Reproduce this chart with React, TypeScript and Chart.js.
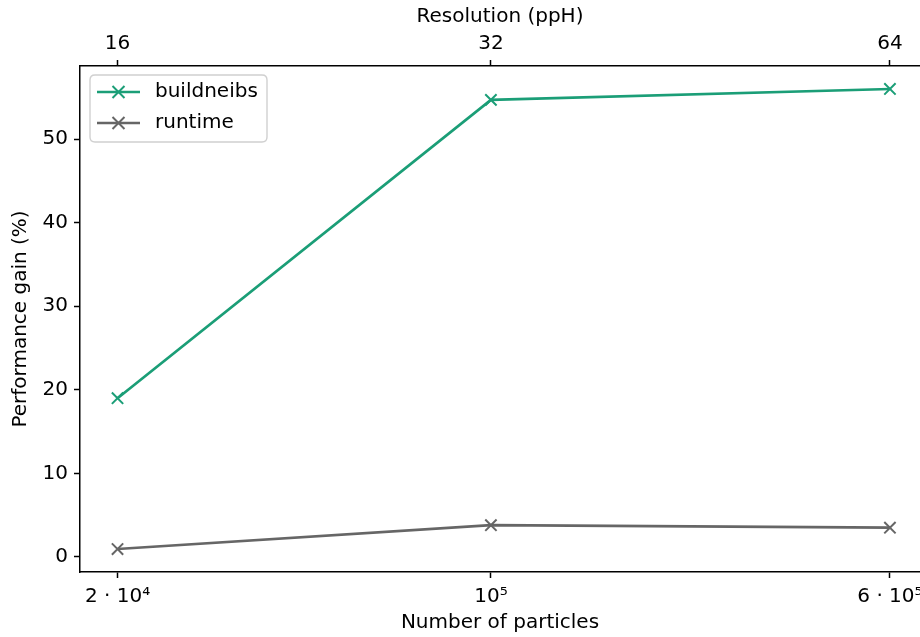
import React, { useEffect, useRef } from "react";
import { Chart, registerables } from "chart.js";

Chart.register(...registerables);

const particles = [18700, 100000, 600000];
const particleLabels = ["2 · 10⁴", "10⁵", "6 · 10⁵"];
const resolutionLabels = ["16", "32", "64"];
const buildneibs = [19.0, 54.7, 56.0];
const runtime = [0.95, 3.8, 3.5];
const yTicks = [0, 10, 20, 30, 40, 50];

const FONT = "'DejaVu Sans', sans-serif";
const FS = 20;

const legendPlugin = {
  id: "innerLegend",
  afterDraw(chart: any) {
    const ctx = chart.ctx;
    const x0 = 90, y0 = 75, w = 177, h = 67, r = 5;
    ctx.save();
    ctx.beginPath();
    ctx.moveTo(x0 + r, y0);
    ctx.lineTo(x0 + w - r, y0);
    ctx.quadraticCurveTo(x0 + w, y0, x0 + w, y0 + r);
    ctx.lineTo(x0 + w, y0 + h - r);
    ctx.quadraticCurveTo(x0 + w, y0 + h, x0 + w - r, y0 + h);
    ctx.lineTo(x0 + r, y0 + h);
    ctx.quadraticCurveTo(x0, y0 + h, x0, y0 + h - r);
    ctx.lineTo(x0, y0 + r);
    ctx.quadraticCurveTo(x0, y0, x0 + r, y0);
    ctx.closePath();
    ctx.fillStyle = "rgba(255,255,255,0.8)";
    ctx.fill();
    ctx.strokeStyle = "#d0d0d0";
    ctx.lineWidth = 1.4;
    ctx.stroke();
    chart.data.datasets.forEach((ds: any, i: number) => {
      const y = 92 + i * 31;
      ctx.strokeStyle = ds.borderColor;
      ctx.lineWidth = 2.7;
      ctx.beginPath();
      ctx.moveTo(97, y);
      ctx.lineTo(140, y);
      ctx.stroke();
      const c = 118.5, s = 6;
      ctx.lineWidth = 2;
      ctx.beginPath();
      ctx.moveTo(c - s, y - s);
      ctx.lineTo(c + s, y + s);
      ctx.moveTo(c - s, y + s);
      ctx.lineTo(c + s, y - s);
      ctx.stroke();
      ctx.fillStyle = "#000";
      ctx.font = `${FS}px ${FONT}`;
      ctx.textBaseline = "middle";
      ctx.textAlign = "left";
      ctx.fillText(ds.label, 155, y);
    });
    ctx.restore();
  },
};

export default function App() {
  const ref = useRef<HTMLCanvasElement>(null);
  useEffect(() => {
    if (!ref.current) return;
    const axisCommon = {
      border: { display: true, color: "#000", width: 1.5 },
      grid: {
        display: true,
        drawOnChartArea: false,
        drawTicks: true,
        tickLength: 6,
        tickColor: "#000",
        tickWidth: 1.5,
        color: "#000",
      },
    };
    const xMin = 15800;
    const xMax = 686700;
    const noPad = (s: any) => {
      s.paddingLeft = 0;
      s.paddingRight = 0;
    };
    const chart = new Chart(ref.current, {
      type: "line",
      data: {
        datasets: [
          {
            label: "buildneibs",
            data: particles.map((p, i) => ({ x: p, y: buildneibs[i] })),
            borderColor: "#1b9e77",
            backgroundColor: "#1b9e77",
            borderWidth: 2.7,
            pointStyle: "crossRot",
            pointRadius: 8,
            pointBorderWidth: 2,
            xAxisID: "x",
            yAxisID: "y",
          },
          {
            label: "runtime",
            data: particles.map((p, i) => ({ x: p, y: runtime[i] })),
            borderColor: "#666666",
            backgroundColor: "#666666",
            borderWidth: 2.7,
            pointStyle: "crossRot",
            pointRadius: 8,
            pointBorderWidth: 2,
            xAxisID: "x",
            yAxisID: "y",
          },
        ],
      },
      options: {
        animation: false,
        responsive: false,
        layout: { padding: 0, autoPadding: false },
        plugins: { legend: { display: false }, tooltip: { enabled: false } },
        scales: {
          x: {
            ...axisCommon,
            type: "logarithmic",
            position: "bottom",
            min: xMin,
            max: xMax,
            afterBuildTicks: (s: any) => {
              s.ticks = particles.map((v) => ({ value: v }));
            },
            afterFit: (s: any) => {
              s.height = 65;
              noPad(s);
            },
            ticks: {
              autoSkip: false,
              maxRotation: 0,
              padding: 7,
              color: "#000",
              font: { family: FONT, size: FS },
              callback: (_v: any, i: number) => particleLabels[i],
            },
            title: {
              display: true,
              text: "Number of particles",
              color: "#000",
              font: { family: FONT, size: FS },
              padding: { top: 0, bottom: 2 },
            },
          },
          x2: {
            ...axisCommon,
            type: "logarithmic",
            position: "top",
            min: xMin,
            max: xMax,
            afterBuildTicks: (s: any) => {
              s.ticks = particles.map((v) => ({ value: v }));
            },
            afterFit: (s: any) => {
              s.height = 66;
              noPad(s);
            },
            ticks: {
              autoSkip: false,
              maxRotation: 0,
              padding: 4,
              color: "#000",
              font: { family: FONT, size: FS },
              callback: (_v: any, i: number) => resolutionLabels[i],
            },
            title: {
              display: true,
              text: "Resolution (ppH)",
              color: "#000",
              font: { family: FONT, size: FS },
              padding: { top: 5, bottom: 0 },
            },
          },
          y: {
            ...axisCommon,
            type: "linear",
            position: "left",
            min: -1.8,
            max: 58.75,
            afterBuildTicks: (s: any) => {
              s.ticks = yTicks.map((v) => ({ value: v }));
            },
            afterFit: (s: any) => {
              s.width = 80;
            },
            ticks: {
              padding: 6,
              color: "#000",
              font: { family: FONT, size: FS },
            },
            title: {
              display: true,
              text: "Performance gain (%)",
              color: "#000",
              font: { family: FONT, size: FS },
              padding: { top: 9, bottom: 0 },
            },
          },
        },
      } as any,
      plugins: [legendPlugin],
    });
    return () => chart.destroy();
  }, []);
  return (
    <div style={{ position: "fixed", left: 0, top: 0, width: 920, height: 637, background: "#fff" }}>
      <canvas ref={ref} width={920} height={637} />
    </div>
  );
}
